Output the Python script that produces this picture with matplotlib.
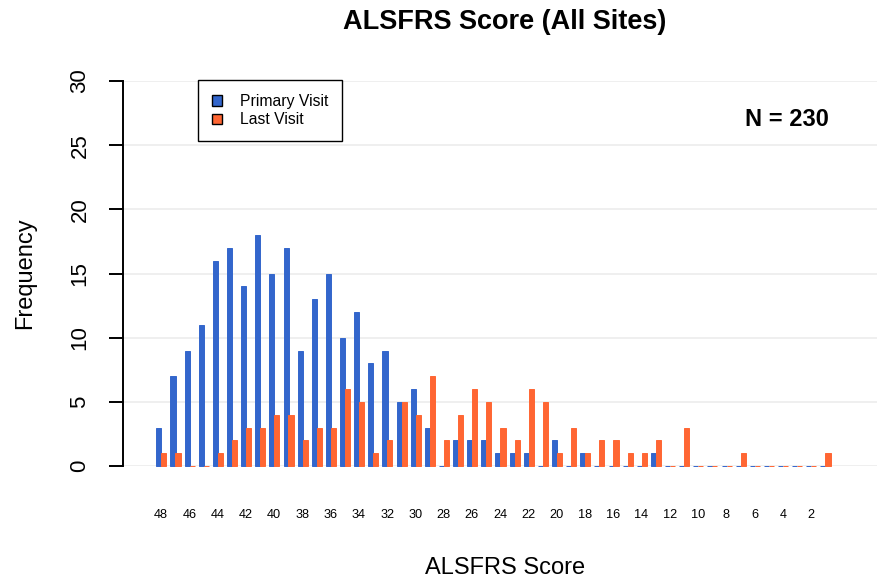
import matplotlib
matplotlib.use("Agg")
import matplotlib.pyplot as plt
import numpy as np
from matplotlib.patches import Patch
from matplotlib.transforms import blended_transform_factory

plt.rcParams['font.family'] = ['Liberation Sans', 'DejaVu Sans']

# ---- data ----
scores = list(range(48, 0, -1))
primary_visit = [3, 7, 9, 11, 16, 17, 14, 18, 15, 17, 9, 13, 15, 10, 12, 8, 9,
                 5, 6, 3, 0, 2, 2, 2, 1, 1, 1, 0, 2, 0, 1, 0, 0, 0, 0, 1,
                 0, 0, 0, 0, 0, 0, 0, 0, 0, 0, 0, 0]
last_visit = [1, 1, 0, 0, 1, 2, 3, 3, 4, 4, 2, 3, 3, 6, 5, 1, 2,
              5, 4, 7, 2, 4, 6, 5, 3, 2, 6, 5, 1, 3, 1, 2, 2, 1, 1, 2,
              0, 3, 0, 0, 0, 1, 0, 0, 0, 0, 0, 1]
tick_scores = list(range(48, 0, -2))
y_ticks = [0, 5, 10, 15, 20, 25, 30]
n_total = 230

title = "ALSFRS Score (All Sites)"
x_label = "ALSFRS Score"
y_label = "Frequency"
series_names = ["Primary Visit", "Last Visit"]
colors = ["#3366CC", "#FF6633"]

W, H = 878, 581
fig = plt.figure(figsize=(W / 100, H / 100), dpi=100)
ax = fig.add_axes([123 / W, (H - 466) / H, (W - 123) / W, (466 - 81) / H])

idx = np.arange(len(scores))
bw = 0.36
ax.bar(idx - 0.15, primary_visit, width=bw, color=colors[0], edgecolor=colors[0],
       linewidth=0.7, zorder=3, clip_on=False)
ax.bar(idx + 0.2, last_visit, width=bw, color=colors[1], edgecolor=colors[1],
       linewidth=0.7, zorder=4, clip_on=False)

ax.set_xlim(-2.69, 50.74)
ax.set_ylim(0, 30)

# grid
for v in y_ticks:
    ax.axhline(v, color="#EEEEEE", linewidth=1.3, zorder=1)

for s in ["top", "right", "bottom"]:
    ax.spines[s].set_visible(False)
ax.spines["left"].set_linewidth(1.4)
ax.spines["left"].set_bounds(0, 30)
ax.set_xticks([])
ax.set_yticks(y_ticks)
ax.set_yticklabels([])
ax.tick_params(axis="y", length=10, width=1.4)

# y tick labels (rotated, R style)
ytr = blended_transform_factory(fig.transFigure, ax.transData)
for v in y_ticks:
    fig.text(80 / W, v, str(v), transform=ytr, rotation=90, ha="center",
             va="center", fontsize=16)

# x tick labels
xtr = ax.get_xaxis_transform()
for s in tick_scores:
    i = scores.index(s)
    ax.text(i, -0.127, str(s), transform=xtr, ha="center", va="center",
            fontsize=9.2, clip_on=False)

fig.text(505 / W, 1 - 22 / H, title, ha="center", va="center",
         fontsize=19.5, fontweight="bold")
fig.text(505 / W, 1 - 568 / H, x_label, ha="center", va="center", fontsize=17)
fig.text(25 / W, 1 - 273 / H, y_label, ha="center", va="center",
         rotation=90, fontsize=17)
fig.text(787 / W, 1 - 120 / H, f"N = {n_total}", ha="center", va="center",
         fontsize=17, fontweight="bold")

handles = [Patch(facecolor=c, edgecolor="black", linewidth=1) for c in colors]
leg = fig.legend(handles, series_names, loc="upper left",
                 bbox_to_anchor=(198 / W, 1 - 80 / H), fontsize=11.3,
                 frameon=True, fancybox=False, edgecolor="black",
                 framealpha=1, borderpad=0.9, handlelength=0.65,
                 handleheight=0.65, handletextpad=1.1, labelspacing=0.2,
                 borderaxespad=0)
leg.get_frame().set_linewidth(1.0)

fig.savefig("out.png", dpi=100)
